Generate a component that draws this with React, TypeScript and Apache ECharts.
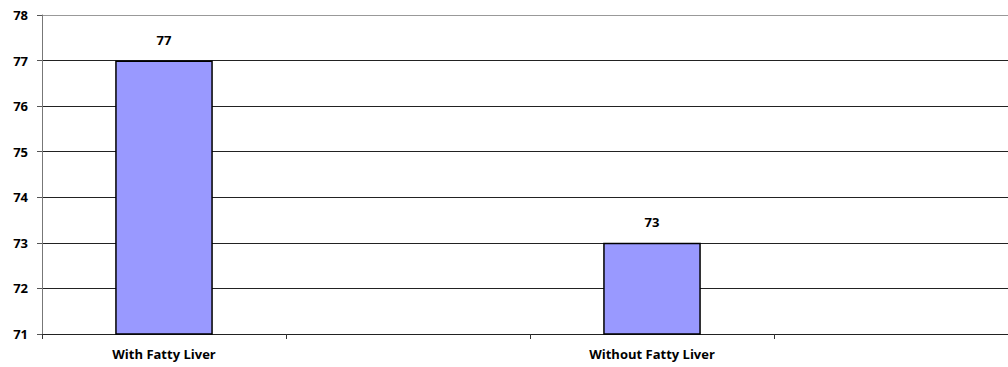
import React, { useEffect, useRef } from "react";
import * as echarts from "echarts";

// Categories (empty slots keep the wide spacing between the two groups)
const categories = ["With Fatty Liver", "", "Without Fatty Liver", ""];
const values: (number | string)[] = [77, "-", 73, "-"];
const yMin = 71;
const yMax = 78;

const FONT = "'Open Sans', sans-serif";

export default function App() {
  const ref = useRef<HTMLDivElement>(null);

  useEffect(() => {
    if (!ref.current) return;
    const chart = echarts.init(ref.current, undefined, { renderer: "svg" });
    // gridline colours: the top line is the lighter plot border
    const gridColors = ["#222", "#222", "#222", "#222", "#222", "#222", "#222", "#999"];
    chart.setOption({
      animation: false,
      backgroundColor: "#fff",
      grid: { left: 42, right: 0, top: 15, bottom: 33, containLabel: false },
      xAxis: {
        type: "category",
        data: categories,
        axisLine: { show: true, lineStyle: { color: "#222", width: 1 } },
        axisTick: { show: true, interval: 0, length: 5, lineStyle: { color: "#333" } },
        axisLabel: {
          interval: 0,
          margin: 13,
          color: "#000",
          fontFamily: FONT,
          fontWeight: "bold",
          fontSize: 13,
        },
        splitLine: { show: false },
      },
      yAxis: {
        type: "value",
        min: yMin,
        max: yMax,
        interval: 1,
        axisLine: { show: true, lineStyle: { color: "#777", width: 1 } },
        axisTick: { show: true, length: 5, lineStyle: { color: "#555" } },
        axisLabel: {
          margin: 14,
          color: "#000",
          fontFamily: FONT,
          fontWeight: "bold",
          fontSize: 13,
        },
        splitLine: { show: true, lineStyle: { color: gridColors, width: 1 } },
      },
      series: [
        {
          type: "bar",
          data: values,
          barWidth: "40%",
          itemStyle: { color: "#9999FF", borderColor: "#000", borderWidth: 1.5 },
          label: {
            show: true,
            position: "top",
            distance: 14,
            color: "#000",
            fontFamily: FONT,
            fontWeight: "bold",
            fontSize: 13,
          },
        },
      ],
    });
    return () => chart.dispose();
  }, []);

  return (
    <div style={{ position: "fixed", left: 0, top: 0, width: 1008, height: 367, overflow: "hidden" }}>
      <div ref={ref} style={{ width: 1018, height: 367 }} />
    </div>
  );
}
